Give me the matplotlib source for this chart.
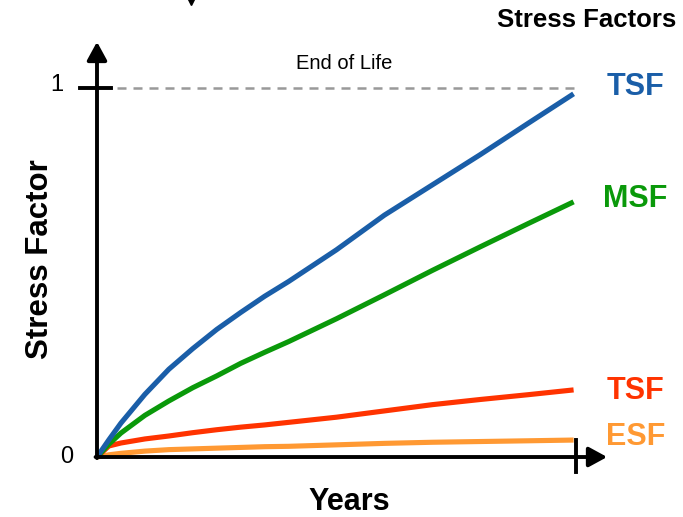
"""
Stress factor growth over years - schematic chart
"""
import matplotlib
matplotlib.use('Agg')
import matplotlib.pyplot as plt

plt.rcParams['font.family'] = ['Liberation Sans', 'DejaVu Sans']

# Data (years 0..10, stress factor 0..1)
years = [0, 0.25, 0.5, 1, 1.5, 2, 2.5, 3, 3.5, 4, 5, 6, 7, 8, 9, 9.95]
tsf_total = [0, 0.047, 0.092, 0.17, 0.238, 0.294, 0.346, 0.392, 0.436, 0.476,
             0.562, 0.656, 0.738, 0.82, 0.905, 0.985]
msf = [0, 0.035, 0.065, 0.113, 0.152, 0.188, 0.22, 0.254, 0.284, 0.313,
       0.375, 0.44, 0.506, 0.57, 0.633, 0.692]
tsf_thermal = [0, 0.03, 0.038, 0.049, 0.057, 0.066, 0.074, 0.081, 0.087, 0.094,
               0.108, 0.125, 0.142, 0.156, 0.169, 0.182]
esf = [0, 0.006, 0.01, 0.016, 0.02, 0.022, 0.024, 0.026, 0.028, 0.029,
       0.033, 0.037, 0.04, 0.042, 0.044, 0.046]

series = [
    ('TSF', tsf_total, '#1A5EA8', 1.003),
    ('MSF', msf, '#0A990A', 0.70),
    ('TSF', tsf_thermal, '#FF3300', 0.179),
    ('ESF', esf, '#FF9933', 0.054),
]

END_OF_LIFE = 1.0
X_END = 10

fig = plt.figure(figsize=(6.83, 5.17), dpi=100)
ax = fig.add_axes([0, 0, 1, 1])
ax.set_xlim(-2.025, 12.234)
ax.set_ylim(-0.1627, 1.2395)
ax.axis('off')

# End-of-life reference line
ax.plot([0.42, X_END], [END_OF_LIFE, END_OF_LIFE], color='#999999', lw=1.8,
        dashes=(3.6, 2.8), solid_capstyle='butt')
ax.text(5.16, 1.066, 'End of Life', ha='center', va='center', fontsize=14.5)

# Curves (drawn back to front so blue sits on top near the origin)
for name, vals, color, label_y in series[::-1]:
    ax.plot(years, vals, color=color, lw=3.7, solid_capstyle='butt', solid_joinstyle='round')
for name, vals, color, label_y in series:
    ax.text(11.24, label_y, name, color=color, ha='center', va='center',
            fontsize=22, fontweight='bold')

# Axes with arrowheads
arrow = dict(arrowstyle='-|>,head_length=0.55,head_width=0.3', lw=2.8, color='black',
             mutation_scale=20, shrinkA=0, shrinkB=0)
ax.annotate('', xy=(0, 1.126), xytext=(0, -0.003), arrowprops=arrow)
ax.annotate('', xy=(10.65, 0), xytext=(-0.03, 0), arrowprops=arrow)

# Tick marks at 1 and at the end of the x axis
ax.plot([-0.355, 0.292], [END_OF_LIFE, END_OF_LIFE], color='black', lw=2.8)
ax.plot([X_END, X_END], [-0.041, 0.046], color='black', lw=2.8)

ax.text(-0.71, 1.009, '1', ha='right', va='center', fontsize=17)
ax.text(-0.50, 0.0, '0', ha='right', va='center', fontsize=17)

ax.text(5.26, -0.122, 'Years', ha='center', va='center', fontsize=22, fontweight='bold')
ax.text(-1.2, 0.537, 'Stress Factor', ha='center', va='center', rotation=90,
        fontsize=22.5, fontweight='bold')
ax.text(10.23, 1.185, 'Stress Factors', ha='center', va='center', fontsize=18.5,
        fontweight='bold')

# Small cut-off arrowhead at the top edge
ax.plot([1.96], [1.2395], marker='v', color='black', markersize=7.5, clip_on=False)

plt.savefig('out.png', dpi=100, facecolor='white')
plt.close()
